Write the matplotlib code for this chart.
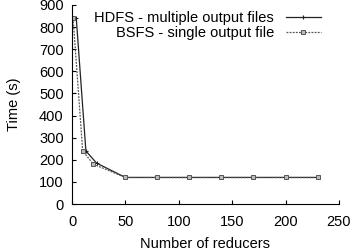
import matplotlib
matplotlib.use("Agg")
import matplotlib.pyplot as plt

plt.rcParams["font.family"] = ["Liberation Sans", "DejaVu Sans"]

# reducers vs time (s)
hdfs_x = [4, 13, 23, 50, 80, 110, 140, 170, 200, 230]
hdfs_y = [840, 240, 185, 120, 120, 120, 120, 120, 120, 120]

bsfs_x = [1, 10, 20, 50, 80, 110, 140, 170, 200, 230]
bsfs_y = [840, 240, 180, 120, 120, 120, 120, 120, 120, 120]

xticks = [0, 50, 100, 150, 200, 250]
yticks = [0, 100, 200, 300, 400, 500, 600, 700, 800, 900]

fig = plt.figure(figsize=(3.53, 2.5), dpi=100)
ax = fig.add_axes([0.204, 0.184, 0.756, 0.796])

ax.plot(hdfs_x, hdfs_y, c="#222222", lw=0.9, marker="+", ms=3.5, mew=0.8,
        label="HDFS - multiple output files")
ax.plot(bsfs_x, bsfs_y, c="#555555", lw=0.9, ls=(0, (1.5, 1)), marker="s", ms=3,
        mfc="#bbbbbb", mec="#555555", mew=0.7,
        label="BSFS - single output file")

ax.set_xlim(0, 250)
ax.set_ylim(0, 900)
ax.set_xticks(xticks)
ax.set_yticks(yticks)
ax.tick_params(axis="both", direction="in", labelsize=10.5, length=3)
ax.tick_params(axis="x", pad=8)
ax.tick_params(axis="y", pad=6)
ax.spines["top"].set_visible(False)
ax.spines["right"].set_visible(False)

ax.set_xlabel("Number of reducers", fontsize=10.5, labelpad=6)
ax.set_ylabel("Time (s)", fontsize=10.5, labelpad=13)

ax.legend(loc="upper right", bbox_to_anchor=(0.965, 1.015), frameon=False, markerfirst=False,
          fontsize=10.5, handlelength=2.4, handletextpad=0.8, labelspacing=0.1,
          borderaxespad=0.2)

fig.savefig("out.png", dpi=100)
